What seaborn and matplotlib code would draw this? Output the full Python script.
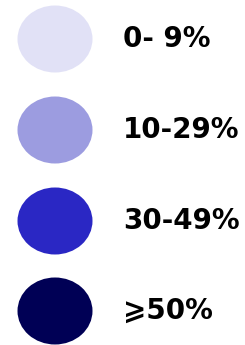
import matplotlib
matplotlib.use("Agg")
import matplotlib.pyplot as plt
import seaborn as sns
from matplotlib.patches import Ellipse

sns.set_theme(style="white")
plt.rcParams['font.family'] = ['DejaVu Sans']

labels = ["0- 9%", "10-29%", "30-49%", "\u2a7e50%"]
colors = ["#E1E1F6", "#9C9CE0", "#2A27C4", "#000055"]

fig = plt.figure(figsize=(2.45, 3.45), dpi=100)
ax = fig.add_axes([0, 0, 1, 1])
ax.set_xlim(0, 245)
ax.set_ylim(345, 0)
ax.axis("off")

centers_y = [39, 130, 221, 311]
for cy, lab, col in zip(centers_y, labels, colors):
    ax.add_patch(Ellipse((55, cy), 75, 67, facecolor=col, edgecolor="none"))
    ax.text(123, cy, lab, fontsize=20, fontweight="bold", color="black",
            va="center", ha="left", family=['DejaVu Sans'])

fig.savefig("out.png", dpi=100)
